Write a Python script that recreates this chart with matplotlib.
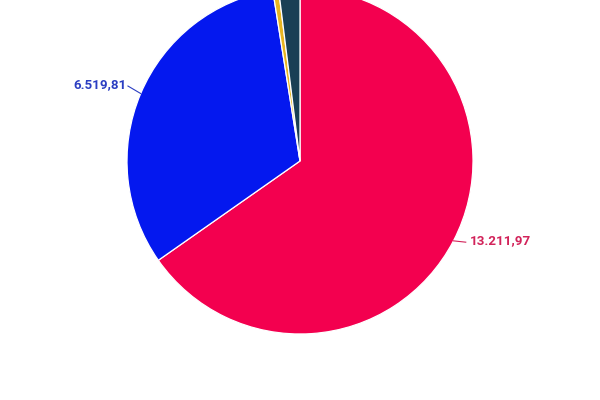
import numpy as np
import matplotlib
matplotlib.use("Agg")
import matplotlib.pyplot as plt

plt.rcParams["font.family"] = ["Roboto", "DejaVu Sans"]

# slice values, clockwise from 12 o'clock
values = [13211.97, 6519.81, 110.0, 400.0]
colors = ["#f3004f", "#0418ef", "#e8b520", "#193f55"]
label_colors = ["#d2235a", "#2b3ec2", None, None]
show_label = [True, True, False, False]


def fmt(v):
    # german style number: 13.211,97
    s = f"{v:,.2f}"
    return s.replace(",", "X").replace(".", ",").replace("X", ".")


def main():
    r = 173.0
    fig = plt.figure(figsize=(6, 4), dpi=100)
    ax = fig.add_axes([0, 0, 1, 1])
    wedges, _ = ax.pie(values, colors=colors, startangle=90, counterclock=False,
                       radius=1.0,
                       wedgeprops=dict(edgecolor="white", linewidth=0.9))
    ax.set_xlim(-300 / r, 300 / r)
    ax.set_ylim(-239 / r, 161 / r)
    ax.set_aspect("equal", adjustable="datalim")
    ax.axis("off")

    for w, v, c, show in zip(wedges, values, label_colors, show_label):
        if not show:
            continue
        mid = np.deg2rad((w.theta1 + w.theta2) / 2)
        x0, y0 = np.cos(mid), np.sin(mid)
        x1, y1 = 1.08 * x0, 1.06 * y0 + 0.02
        ax.plot([x0, x1], [y0, y1], color=c, lw=0.8)
        ha = "left" if x0 > 0 else "right"
        dx = 0.025 if x0 > 0 else -0.01
        ax.text(x1 + dx, y1 + 0.01, fmt(v), color=c, fontsize=9.6,
                fontweight="bold", ha=ha, va="center")

    fig.savefig("out.png", dpi=100)


if __name__ == "__main__":
    main()
